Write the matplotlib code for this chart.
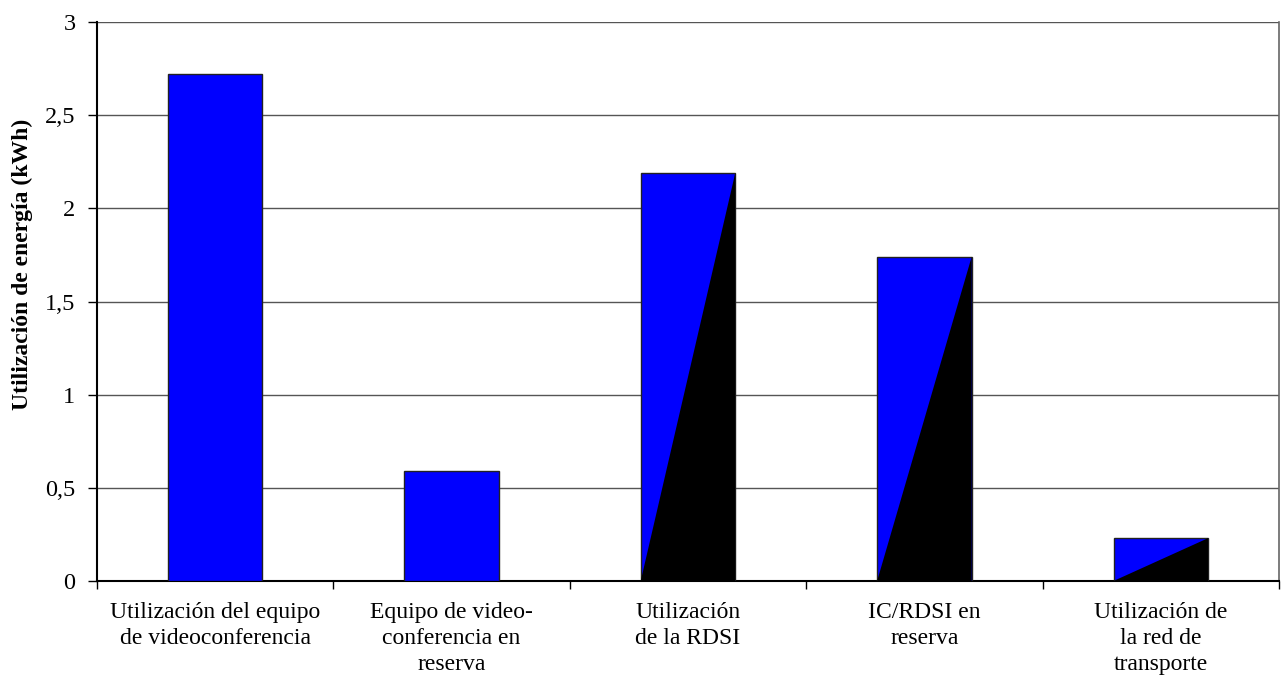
import matplotlib
matplotlib.use("Agg")
import matplotlib.pyplot as plt
from matplotlib.patches import Polygon
from matplotlib.ticker import FuncFormatter, FixedLocator, NullFormatter

categories = ["Utilización del equipo\nde videoconferencia",
              "Equipo de video-\nconferencia en\nreserva",
              "Utilización\nde la RDSI",
              "IC/RDSI en\nreserva",
              "Utilización de\nla red de\ntransporte"]
values = [2.72, 0.59, 2.19, 1.74, 0.23]
has_black = [False, False, True, True, True]
y_ticks = [0, 0.5, 1, 1.5, 2, 2.5, 3]
ylabel = "Utilización de energía (kWh)"

plt.rcParams['font.family'] = ['Liberation Serif', 'DejaVu Serif']

fig = plt.figure(figsize=(12.81, 6.77), dpi=100)
ax = fig.add_axes([97/1281, 1 - 581/677, (1279 - 97)/1281, (581 - 22)/677])

x = list(range(len(categories)))
w = 0.40
bars = ax.bar(x, values, width=w, color="#0000FF", edgecolor="#222222",
              linewidth=1.0, zorder=3)
for xi, v, hb in zip(x, values, has_black):
    if hb:
        tri = Polygon([(xi - w/2, 0), (xi + w/2, v), (xi + w/2, 0)],
                      closed=True, facecolor="black", edgecolor="none", zorder=4)
        ax.add_patch(tri)

ax.set_xlim(-0.5, len(categories) - 0.5)
ax.set_ylim(0, 3)
ax.set_yticks(y_ticks)
ax.yaxis.set_major_formatter(FuncFormatter(lambda v, p: ("%g" % v).replace(".", ",")))
ax.yaxis.grid(True, color="#555555", linewidth=1.0, zorder=0)
ax.set_axisbelow(True)

# category boundaries as ticks, labels centered
ax.xaxis.set_major_locator(FixedLocator([i - 0.5 for i in range(len(categories) + 1)]))
ax.xaxis.set_major_formatter(NullFormatter())
ax.xaxis.set_minor_locator(FixedLocator(x))
ax.set_xticklabels(categories, minor=True, fontsize=17, linespacing=1.33)
ax.tick_params(axis='x', which='minor', length=0, pad=15)
ax.tick_params(axis='x', which='major', length=6, width=1, direction='out')
ax.tick_params(axis='y', length=6.5, width=1, labelsize=17.5, pad=9)

for s in ["left", "bottom"]:
    ax.spines[s].set_color("black")
    ax.spines[s].set_linewidth(1.5)
ax.spines["right"].set_color("#666666")
ax.spines["top"].set_visible(False)
ax.spines["right"].set_linewidth(1.2)

ax.set_ylabel(ylabel, fontsize=17, fontweight='bold')
ax.yaxis.set_label_coords(-(97 - 33) / (1279 - 97), (581 - 264) / 559)

fig.savefig("out.png", dpi=100)
